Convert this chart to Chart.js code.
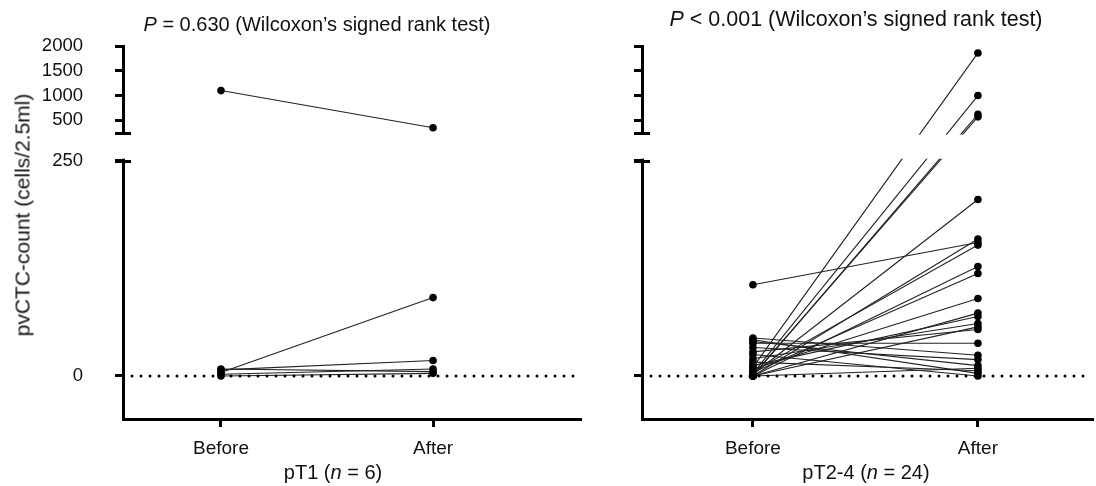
<!DOCTYPE html>
<html><head><meta charset="utf-8">
<script src="https://cdn.jsdelivr.net/npm/chart.js@4.4.1/dist/chart.umd.min.js"></script>
<style>
html,body{margin:0;padding:0;background:#fff;}
#wrap{position:relative;width:1096px;height:486px;overflow:hidden;font-family:"Liberation Sans",Arial,sans-serif;color:#111;}
canvas{position:absolute;top:0;}
.t{position:absolute;white-space:nowrap;transform:translateX(-50%);font-size:20px;line-height:20px;}
.yt{position:absolute;white-space:nowrap;font-size:21px;line-height:21px;transform:translate(-50%,-50%) rotate(-90deg);}
</style></head><body>
<div id="wrap">
<canvas id="c1" width="600" height="486" style="left:0"></canvas>
<canvas id="c2" width="496" height="486" style="left:600px"></canvas>
<div class="t" style="left:317px;top:14px"><i>P</i> = 0.630 (Wilcoxon’s signed rank test)</div>
<div class="t" style="left:856px;top:9px;font-size:21.5px;line-height:21.5px"><i>P</i> &lt; 0.001 (Wilcoxon’s signed rank test)</div>
<div class="t" style="left:333px;top:462px">pT1 (<i>n</i> = 6)</div>
<div class="t" style="left:866px;top:462px">pT2-4 (<i>n</i> = 24)</div>
<div class="yt" style="left:22px;top:215px">pvCTC-count (cells/2.5ml)</div>
</div>
<script>
// ---- data ----
const categories = ['Before', 'After'];
const xTickValues = [0, 1];
const yTickValues = [0, 250, 500, 1000, 1500, 2000];
const yTickLabels = ['0', '250', '500', '1000', '1500', '2000'];

const leftBefore  = [1100, 4, 7, 2, 8, 0];
const leftAfter   = [350, 91, 18, 8, 5, 3];

const rightBefore = [10, 3, 0, 1, 2, 106, 0, 5, 0, 4, 8, 0, 12, 20, 0, 28, 38, 44, 33, 40, 16, 42, 25, 0];
const rightAfter  = [1860, 1000, 620, 570, 205, 155, 159, 152, 127, 119, 90, 73, 69, 61, 57, 54, 38, 24, 19, 12, 6, 3, 0, 9];

// ---- broken axis definition ----
const Y_MIN = -50, Y_MAX = 2000;
const LOW_MAX = 250;      // top of lower segment
const HIGH_MIN = 250;     // bottom of upper segment
const LOW_FRAC = 0.6925;  // fraction of height where lower segment ends
const HIGH_FRAC = 0.7676; // fraction of height where upper segment starts

class BrokenLinearScale extends Chart.LinearScale {
  buildTicks() {
    this.start = this.min; this.end = this.max;
    return yTickValues.map(v => ({ value: v }));
  }
  _dec(v) {
    if (v <= LOW_MAX) return (v - Y_MIN) / (LOW_MAX - Y_MIN) * LOW_FRAC;
    return HIGH_FRAC + (v - HIGH_MIN) / (Y_MAX - HIGH_MIN) * (1 - HIGH_FRAC);
  }
  getPixelForValue(v) {
    if (v === null || v === undefined || isNaN(v)) return NaN;
    return this.getPixelForDecimal(this._dec(v));
  }
  getValueForPixel(p) {
    const d = this.getDecimalForPixel(p);
    if (d <= LOW_FRAC) return Y_MIN + d / LOW_FRAC * (LOW_MAX - Y_MIN);
    return HIGH_MIN + (d - HIGH_FRAC) / (1 - HIGH_FRAC) * (Y_MAX - HIGH_MIN);
  }
}
BrokenLinearScale.id = 'brokenLinear';
BrokenLinearScale.defaults = Chart.LinearScale.defaults;
Chart.register(BrokenLinearScale);

const breakPlugin = {
  id: 'axisBreak',
  afterDraw(chart) {
    const ys = chart.scales.y, ca = chart.chartArea, ctx = chart.ctx;
    const upper = ys.getPixelForDecimal(HIGH_FRAC);
    const lower = ys.getPixelForDecimal(LOW_FRAC);
    ctx.save();
    ctx.fillStyle = '#fff';
    ctx.fillRect(ca.left - 12, upper + 2, ca.right - ca.left + 14, lower - upper - 4);
    ctx.strokeStyle = '#000';
    ctx.lineWidth = 3;
    ctx.beginPath();
    [upper, lower].forEach(y => {
      const yy = Math.round(y) + 0.5;
      ctx.moveTo(ca.left - 8, yy); ctx.lineTo(ca.left + 8, yy);
    });
    ctx.stroke();
    ctx.restore();
  }
};

Chart.defaults.font.family = '"Liberation Sans", Arial, sans-serif';
Chart.defaults.color = '#111';

function makeChart(id, before, after, opts) {
  const datasets = [{
    data: [{ x: opts.xMin, y: 0 }, { x: opts.xMax, y: 0 }],
    borderColor: '#000', borderWidth: 3, borderDash: [0, 9], borderCapStyle: 'round',
    pointRadius: 0
  }];
  before.forEach((b, i) => {
    datasets.push({
      data: [{ x: xTickValues[0], y: b }, { x: xTickValues[1], y: after[i] }],
      borderColor: '#222', borderWidth: 1.1,
      pointRadius: 3.8, pointBackgroundColor: '#000', pointBorderWidth: 0
    });
  });
  return new Chart(document.getElementById(id), {
    type: 'line',
    data: { datasets },
    plugins: [breakPlugin],
    options: {
      responsive: false, animation: false, devicePixelRatio: 1, events: [],
      layout: { padding: { left: 0, right: opts.padRight, top: 46, bottom: 0 } },
      plugins: { legend: { display: false }, tooltip: { enabled: false }, title: { display: false } },
      scales: {
        x: {
          type: 'linear', min: opts.xMin, max: opts.xMax,
          afterBuildTicks: s => { s.ticks = xTickValues.map(v => ({ value: v })); },
          afterFit: s => { s.height = 67; },
          ticks: { callback: v => categories[v] ?? '', font: { size: 19 }, color: '#111', padding: 10, maxRotation: 0, autoSkip: false },
          grid: { drawOnChartArea: false, drawTicks: true, tickLength: 8, lineWidth: 3, color: '#000' },
          border: { display: true, width: 3, color: '#000' }
        },
        y: {
          type: 'brokenLinear', min: Y_MIN, max: Y_MAX,
          afterFit: s => { s.width = opts.yWidth; },
          ticks: { callback: (v, i) => opts.showY ? yTickLabels[i] : '', font: { size: 18.5 }, color: '#111', padding: 32, autoSkip: false },
          grid: { drawOnChartArea: false, drawTicks: true, tickLength: 8, lineWidth: 3, color: '#000' },
          border: { display: true, width: 3, color: '#000' }
        }
      }
    }
  });
}

makeChart('c1', leftBefore, leftAfter, { xMin: -0.462, xMax: 1.693, padRight: 20, yWidth: 123, showY: true });
makeChart('c2', rightBefore, rightAfter, { xMin: -0.493, xMax: 1.507, padRight: 0, yWidth: 42, showY: false });
</script>
</body></html>
